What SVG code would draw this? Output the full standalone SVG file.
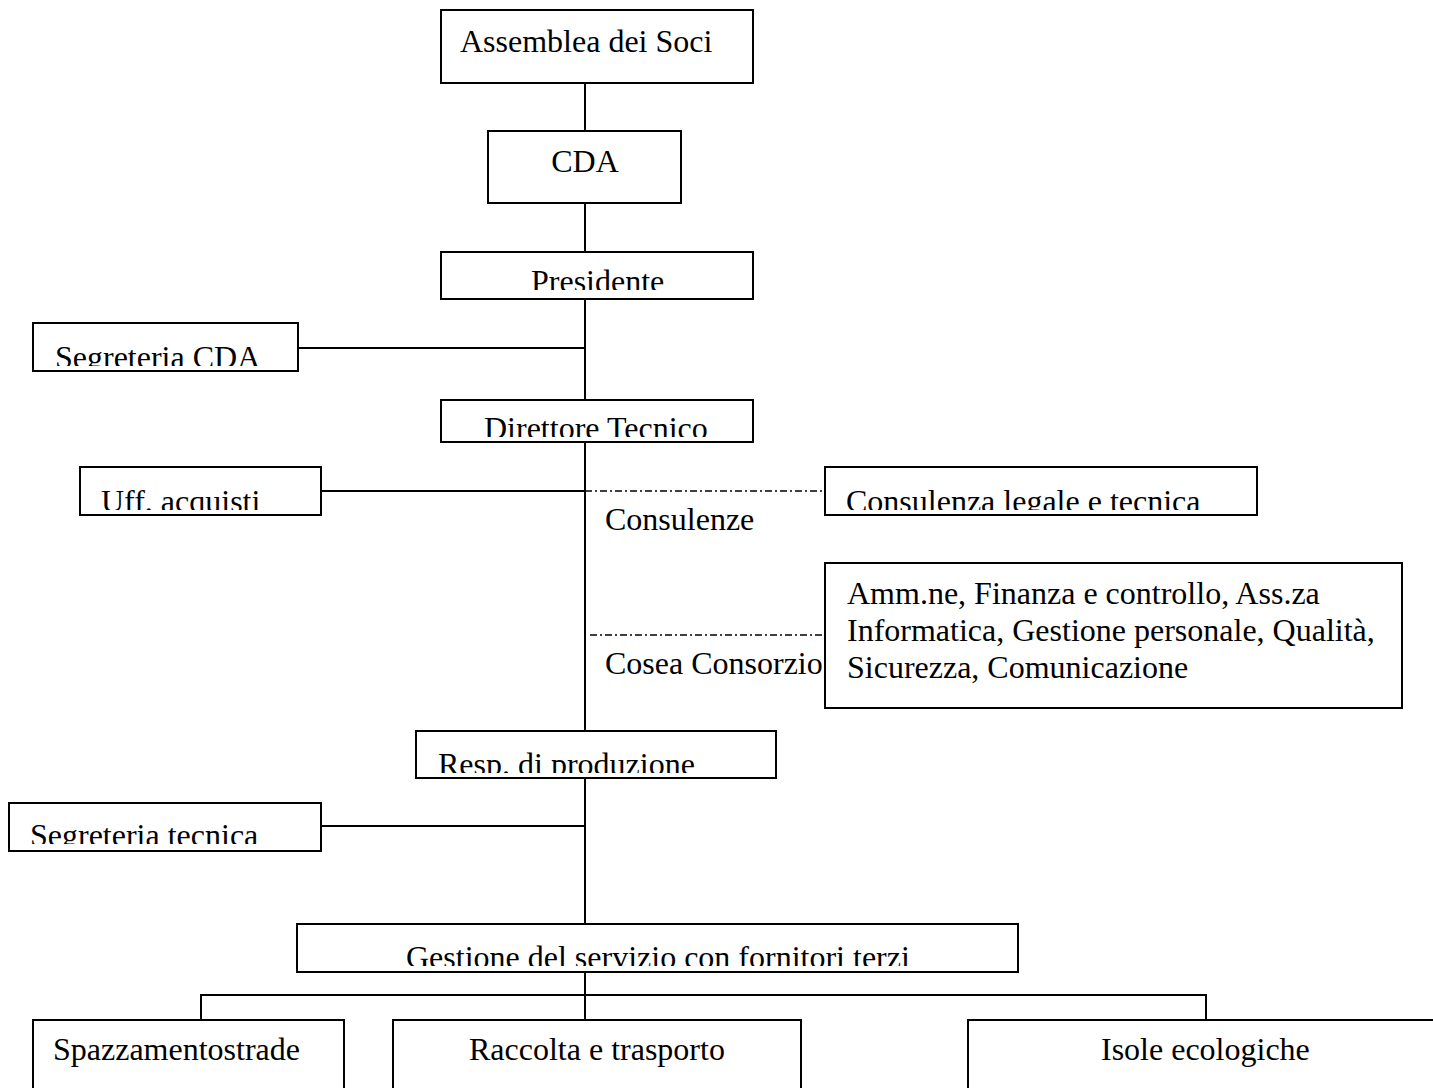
<svg xmlns="http://www.w3.org/2000/svg" width="1433" height="1088" viewBox="0 0 1433 1088">
<style>
.box{fill:#fff;stroke:#000;stroke-width:2}
.ln{stroke:#000;stroke-width:2;fill:none}
.dd{stroke:#000;stroke-width:1.3;fill:none;stroke-dasharray:7 3 2 3}
text{font-family:"Liberation Serif","Times New Roman",serif;font-size:32px;fill:#000}
</style>
<defs>
<clipPath id="cPres"><rect x="441" y="252" width="312" height="38"/></clipPath>
<clipPath id="cSegCDA"><rect x="33" y="323" width="265" height="43"/></clipPath>
<clipPath id="cDir"><rect x="441" y="400" width="312" height="37"/></clipPath>
<clipPath id="cUff"><rect x="80" y="467" width="241" height="43"/></clipPath>
<clipPath id="cCons"><rect x="825" y="467" width="432" height="43"/></clipPath>
<clipPath id="cResp"><rect x="416" y="731" width="360" height="42"/></clipPath>
<clipPath id="cSegT"><rect x="9" y="803" width="312" height="41"/></clipPath>
<clipPath id="cGest"><rect x="297" y="924" width="721" height="42"/></clipPath>
</defs>
<g id="connectors">
<path class="ln" d="M585 83V131M585 203V252M585 299V400M298 348H585M585 442V731M321 491H585M585 778V924M321 826H585M585 972V995M201 1020V995H1206V1020M585 995V1020"/>
<path class="dd" d="M585 491H825"/>
<path class="dd" d="M590 635H825"/>
</g>
<g id="assemblea"><rect class="box" x="441" y="10" width="312" height="73"/><text x="460" y="52">Assemblea dei Soci</text></g>
<g id="cda"><rect class="box" x="488" y="131" width="193" height="72"/><text x="585" y="172" text-anchor="middle">CDA</text></g>
<g id="presidente"><rect class="box" x="441" y="252" width="312" height="47"/><text x="531" y="292" clip-path="url(#cPres)">Presidente</text></g>
<g id="segreteria-cda"><rect class="box" x="33" y="323" width="265" height="48"/><text x="55" y="368" clip-path="url(#cSegCDA)">Segreteria CDA</text></g>
<g id="direttore"><rect class="box" x="441" y="400" width="312" height="42"/><text x="484" y="439" clip-path="url(#cDir)">Direttore Tecnico</text></g>
<g id="uff-acquisti"><rect class="box" x="80" y="467" width="241" height="48"/><text x="101" y="512" clip-path="url(#cUff)">Uff. acquisti</text></g>
<g id="consulenza"><rect class="box" x="825" y="467" width="432" height="48"/><text x="846" y="512" clip-path="url(#cCons)">Consulenza legale e tecnica</text></g>
<g id="label-consulenze"><text x="605" y="530">Consulenze</text></g>
<g id="amministrazione"><rect class="box" x="825" y="563" width="577" height="145"/><text x="847" y="604">Amm.ne, Finanza e controllo, Ass.za</text><text x="847" y="641">Informatica, Gestione personale, Qualità,</text><text x="847" y="678">Sicurezza, Comunicazione</text></g>
<g id="label-cosea"><text x="605" y="674">Cosea Consorzio</text></g>
<g id="resp-produzione"><rect class="box" x="416" y="731" width="360" height="47"/><text x="438" y="775" clip-path="url(#cResp)">Resp. di produzione</text></g>
<g id="segreteria-tecnica"><rect class="box" x="9" y="803" width="312" height="48"/><text x="30" y="846" clip-path="url(#cSegT)">Segreteria tecnica</text></g>
<g id="gestione"><rect class="box" x="297" y="924" width="721" height="48"/><text x="406" y="968" clip-path="url(#cGest)">Gestione del servizio con fornitori terzi</text></g>
<g id="spazzamento"><rect class="box" x="33" y="1020" width="311" height="90"/><text x="53" y="1060">Spazzamentostrade</text></g>
<g id="raccolta"><rect class="box" x="393" y="1020" width="408" height="90"/><text x="469" y="1060">Raccolta e trasporto</text></g>
<g id="isole"><rect class="box" x="968" y="1020" width="480" height="90"/><text x="1101" y="1060">Isole ecologiche</text></g>
</svg>
